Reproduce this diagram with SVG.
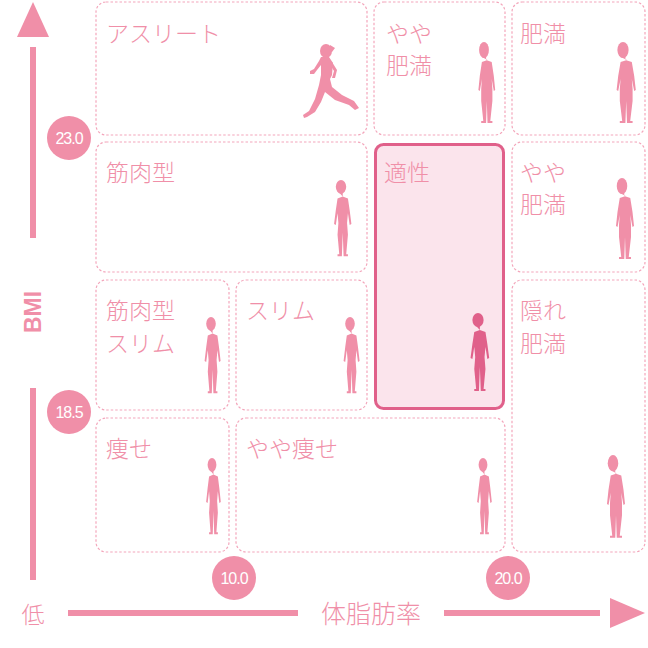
<svg xmlns="http://www.w3.org/2000/svg" width="648" height="648" viewBox="0 0 648 648">
<style>
.c{fill:#fff;stroke:#f3a6bb;stroke-width:1.2;stroke-dasharray:2.5 2}
.t{font-family:"Noto Sans CJK JP",sans-serif;font-size:23px;font-weight:300;fill:#f08fa8}
.n{font-family:"Liberation Sans",sans-serif;font-size:16px;fill:#fff;text-anchor:middle;letter-spacing:-1px}
.p{fill:#f08fa8}
</style>
<defs>
<symbol id="w" viewBox="0 0 30 90" preserveAspectRatio="none">
<ellipse cx="15" cy="7" rx="6" ry="7"/>
<path d="M13 13h4v4l6 2 2 12 2 14-2 1-2-12-1 10 1 12-2 20h2v2h-5l-1-24-1 24h-5v-2h2l-2-20 1-12-1-10-2 12-2-1 2-14 2-12 6-2z"/>
</symbol>
<symbol id="f" viewBox="0 0 40 90" preserveAspectRatio="none">
<ellipse cx="20" cy="8" rx="7" ry="8"/>
<path d="M17 15h6v3l8 2 3 14 2 14-2 1-3-12 1 10 0 12-3 20h3v2h-7l-1-22-1 22h-7v-2h3l-3-20 0-12 1-10-3 12-2-1 2-14 3-14 8-2z"/>
</symbol>
</defs>
<g id="cells">
<rect class="c" x="96" y="2" width="271" height="133" rx="10"/>
<rect class="c" x="374" y="2" width="131" height="133" rx="10"/>
<rect class="c" x="512" y="2" width="133" height="133" rx="10"/>
<rect class="c" x="96" y="142" width="271" height="130" rx="10"/>
<rect class="c" x="512" y="142" width="133" height="130" rx="10"/>
<rect class="c" x="96" y="280" width="133" height="130" rx="10"/>
<rect class="c" x="236" y="280" width="131" height="130" rx="10"/>
<rect class="c" x="512" y="280" width="133" height="272" rx="10"/>
<rect class="c" x="96" y="418" width="133" height="134" rx="10"/>
<rect class="c" x="236" y="418" width="269" height="134" rx="10"/>
<rect x="375.5" y="144.5" width="128" height="264" rx="8" fill="#fbe4ec" stroke="#e0608a" stroke-width="3"/>
</g>
<g id="labels" class="t">
<text x="106" y="42">アスリート</text>
<text x="386" y="42">やや</text><text x="386" y="74">肥満</text>
<text x="520" y="42">肥満</text>
<text x="106" y="181">筋肉型</text>
<text x="384" y="181">適性</text>
<text x="520" y="181">やや</text><text x="520" y="213">肥満</text>
<text x="106" y="319">筋肉型</text><text x="106" y="352">スリム</text>
<text x="246" y="319">スリム</text>
<text x="520" y="319">隠れ</text><text x="520" y="352">肥満</text>
<text x="106" y="457">痩せ</text>
<text x="246" y="457">やや痩せ</text>
</g>
<g id="figures" class="p">
<use href="#f" x="470" y="42" width="28" height="90"/>
<use href="#f" x="607" y="42" width="32" height="90"/>
<use href="#w" x="328" y="180" width="26" height="88"/>
<use href="#f" x="607" y="178" width="30" height="90"/>
<use href="#w" x="199" y="317" width="24" height="88"/>
<use href="#w" x="338" y="317" width="24" height="88"/>
<use href="#w" x="201" y="458" width="22" height="88"/>
<use href="#w" x="472" y="458" width="22" height="88"/>
<use href="#f" x="598" y="455" width="30" height="92"/>
<use href="#w" x="464" y="313" width="28" height="90" fill="#e0608a"/>
<g>
<ellipse cx="326" cy="51" rx="6" ry="7"/>
<path d="M330 45l5 3-3 4-2 0z"/>
<path d="M321 57l8 0 4 6-1 12-2 4 2 8 10 8 12 6 5 7-4 2-6-5-14-5-10-8-4 10-6 10-8 5-3 1-1-3 6-4 6-12 4-14 2-10 0-10-4 5-3 4-4 0 0-3 4-2 5-8z"/>
<path d="M332 62l5 8-2 8-3 0 2-7-3-5z"/>
</g>
</g>
<g id="axes" class="p">
<polygon points="33,2 17,37 49,37"/>
<rect x="30" y="47" width="6" height="191"/>
<rect x="30" y="388" width="6" height="192"/>
<rect x="68" y="610" width="230" height="6"/>
<rect x="444" y="610" width="156" height="6"/>
<polygon points="645,613 610,598 610,628"/>
<text class="t" x="33" y="312" transform="rotate(-90 33 312)" text-anchor="middle" style="font-family:'Liberation Sans',sans-serif;font-weight:bold" dy="8">BMI</text>
<text class="t" x="33" y="623" text-anchor="middle">低</text>
<text class="t" x="371" y="623" text-anchor="middle" style="font-size:25px">体脂肪率</text>
<circle cx="69" cy="138" r="22"/><text class="n" x="69" y="144">23.0</text>
<circle cx="69" cy="412" r="22"/><text class="n" x="69" y="418">18.5</text>
<circle cx="234" cy="578" r="22"/><text class="n" x="234" y="584">10.0</text>
<circle cx="508" cy="578" r="22"/><text class="n" x="508" y="584">20.0</text>
</g>
</svg>
